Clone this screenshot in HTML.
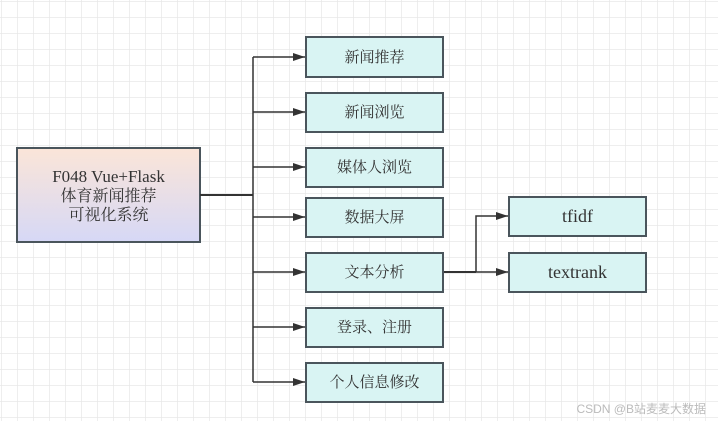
<!DOCTYPE html>
<html><head><meta charset="utf-8"><style>
body{margin:0;width:718px;height:421px;overflow:hidden;background:#fff;}
svg text{font-family:"Liberation Serif","Noto Serif CJK SC",serif;fill:#333;}
</style></head><body>
<svg width="718" height="421" xmlns="http://www.w3.org/2000/svg">
<defs>
<pattern id="g" width="16" height="16" patternUnits="userSpaceOnUse" x="2" y="2">
<path d="M16 0V16M0 16H16" stroke="#e8e8e8" stroke-width="1.5" fill="none"/>
</pattern>
<linearGradient id="mg" x1="0" y1="0" x2="0" y2="1">
<stop offset="0" stop-color="#fbe5d8"/><stop offset="1" stop-color="#d6d8f6"/>
</linearGradient>
<marker id="a" markerWidth="12" markerHeight="8" refX="12" refY="4" orient="auto" markerUnits="userSpaceOnUse">
<path d="M0 0L12 4L0 8Z" fill="#333"/></marker>
</defs>
<rect width="718" height="421" fill="url(#g)"/>
<rect x="17" y="148" width="183" height="94" fill="url(#mg)" stroke="#4a555c" stroke-width="2"/>
<text x="108.5" y="182" font-size="17" text-anchor="middle">F048  Vue+Flask</text>
<text x="108.5" y="201" font-size="16" text-anchor="middle">体育新闻推荐</text>
<text x="108.5" y="220" font-size="16" text-anchor="middle">可视化系统</text>
<g stroke="#333" stroke-width="1.5" fill="none">
<path d="M200 195H253" stroke-width="2"/>
<path d="M253 57V382"/>
<path d="M253 57H305" marker-end="url(#a)"/>
<path d="M253 112H305" marker-end="url(#a)"/>
<path d="M253 167H305" marker-end="url(#a)"/>
<path d="M253 217H305" marker-end="url(#a)"/>
<path d="M253 272H305" marker-end="url(#a)"/>
<path d="M253 327H305" marker-end="url(#a)"/>
<path d="M253 382H305" marker-end="url(#a)"/>
<path d="M443 272H476" stroke-width="2"/>
<path d="M476 272V216H508" marker-end="url(#a)"/>
<path d="M476 272H508" marker-end="url(#a)"/>
</g>
<g fill="#d9f4f3" stroke="#4a555c" stroke-width="2">
<rect x="306" y="37" width="137" height="40"/>
<rect x="306" y="93" width="137" height="39"/>
<rect x="306" y="148" width="137" height="39"/>
<rect x="306" y="198" width="137" height="39"/>
<rect x="306" y="253" width="137" height="39"/>
<rect x="306" y="308" width="137" height="39"/>
<rect x="306" y="363" width="137" height="39"/>
<rect x="509" y="197" width="137" height="39"/>
<rect x="509" y="253" width="137" height="39"/>
</g>
<g font-size="15" text-anchor="middle">
<text x="374.5" y="62">新闻推荐</text>
<text x="374.5" y="117">新闻浏览</text>
<text x="374.5" y="172">媒体人浏览</text>
<text x="374.5" y="222">数据大屏</text>
<text x="374.5" y="277">文本分析</text>
<text x="374.5" y="332">登录、注册</text>
<text x="374.5" y="387">个人信息修改</text>
<text x="577.5" y="222" font-size="18">tfidf</text>
<text x="577.5" y="278" font-size="18">textrank</text>
</g>
<text x="706" y="413" font-size="12" text-anchor="end" style="font-family:'Liberation Sans','Noto Sans CJK SC',sans-serif;fill:#bbb">CSDN @B站麦麦大数据</text>
</svg>
</body></html>
